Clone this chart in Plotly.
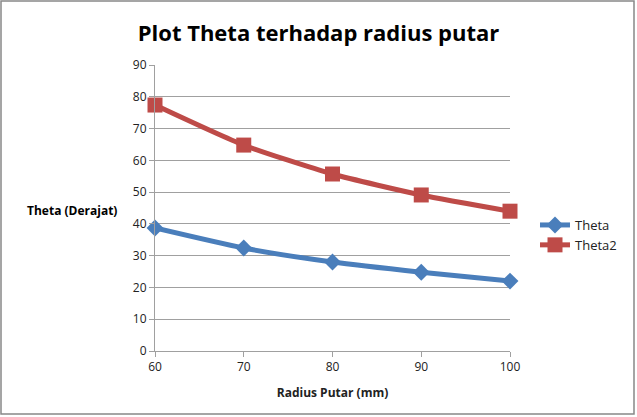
import plotly.graph_objects as go

radius = [60, 70, 80, 90, 100]
theta = [38.7, 32.4, 28.0, 24.8, 22.0]
theta2 = [77.4, 64.8, 55.7, 49.1, 44.0]
y_ticks = [0, 10, 20, 30, 40, 50, 60, 70, 80, 90]
x_ticks = [60, 70, 80, 90, 100]

W, H = 637, 417
L, R, T, B = 155, 127, 65, 66

fig = go.Figure()
fig.add_trace(go.Scatter(x=radius, y=theta, name="Theta", mode="lines+markers", cliponaxis=False,
                         line=dict(color="#4a7ebb", width=5, shape="spline", smoothing=0.6),
                         marker=dict(symbol="diamond", size=13, color="#4a7ebb")))
fig.add_trace(go.Scatter(x=radius, y=theta2, name="Theta2", mode="lines+markers", cliponaxis=False,
                         line=dict(color="#be4b48", width=5, shape="spline", smoothing=0.6),
                         marker=dict(symbol="square", size=15, color="#be4b48")))

pw, ph = W - L - R, H - T - B
fig.update_layout(
    width=W, height=H,
    margin=dict(l=L, r=R, t=T, b=B),
    paper_bgcolor="white", plot_bgcolor="white",
    font=dict(family="Open Sans, Arial", size=12, color="#222"),
    title=dict(text="<b>Plot Theta terhadap radius putar</b>", x=0.5, xanchor="center",
               y=1 - 33 / H, yanchor="middle", font=dict(size=22, color="black", family="Open Sans")),
    xaxis=dict(range=[60, 100], tickvals=x_ticks, showgrid=False, showline=True,
               linecolor="#a0a0a0", ticks="outside", tickcolor="#a0a0a0", ticklen=5,
               zeroline=False, tickfont=dict(size=12),
               title=dict(text="<b>Radius Putar (mm)</b>", font=dict(size=12), standoff=14)),
    yaxis=dict(range=[0, 90], tickvals=y_ticks, showgrid=True, gridcolor="#a0a0a0",
               gridwidth=1, showline=True, linecolor="#a0a0a0", ticks="outside",
               tickcolor="#a0a0a0", ticklen=5, zeroline=False, tickfont=dict(size=12)),
    legend=dict(x=(535 - L) / pw, y=(H - 210 - B) / ph, xanchor="left", yanchor="top",
                font=dict(size=13), bgcolor="rgba(0,0,0,0)", tracegroupgap=6),
    showlegend=True,
)
fig.add_annotation(text="<b>Theta (Derajat)</b>", xref="paper", yref="paper",
                   x=(72 - L) / pw, y=(H - 211 - B) / ph, showarrow=False,
                   xanchor="center", yanchor="middle", font=dict(size=12, color="black"))
fig.add_shape(type="rect", xref="paper", yref="paper",
              x0=(1 - L) / pw, x1=(W - 3 - L) / pw, y0=(3 - B) / ph, y1=(H - 1 - B) / ph,
              line=dict(color="#888", width=1.5), layer="below")
fig.write_html("out.html")
